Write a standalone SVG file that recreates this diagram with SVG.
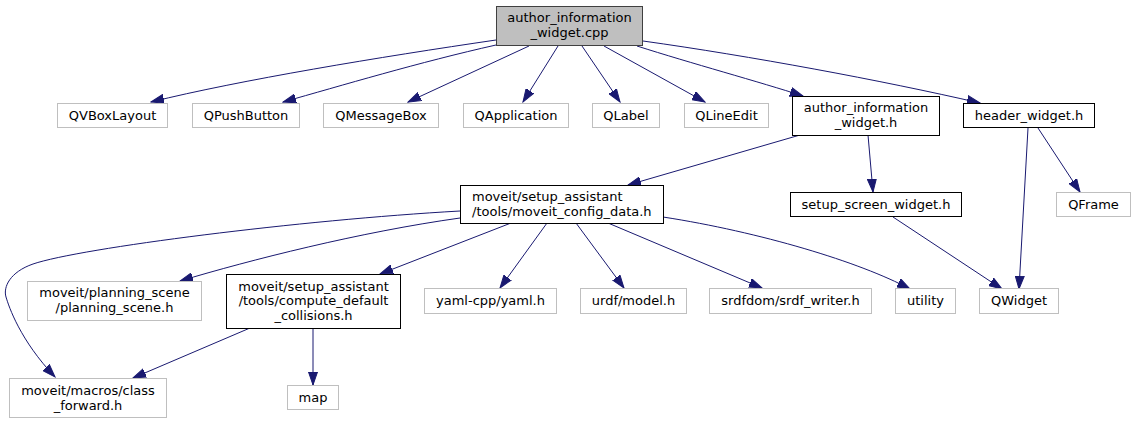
<svg xmlns="http://www.w3.org/2000/svg" width="1135" height="424" viewBox="0 0 1135 424">
<style>
text{font-family:"DejaVu Sans",sans-serif;font-size:13px;fill:#000;text-anchor:middle}
.g rect{fill:#fff;stroke:#bfbfbf;stroke-width:1}
.b rect{fill:#fff;stroke:#000;stroke-width:1}
.r rect{fill:#bfbfbf;stroke:#404040;stroke-width:1}
#edges path{fill:none;stroke:#191970;stroke-width:1;marker-end:url(#a)}
</style>
<defs>
<marker id="a" markerWidth="14" markerHeight="10" refX="13" refY="5" orient="auto" markerUnits="userSpaceOnUse">
<path d="M0,0.5 L13,5 L0,9.5 z" fill="#191970" stroke="#191970" stroke-width="1"/>
</marker>
</defs>
<rect width="1135" height="424" fill="#fff"/>
<g id="edges">
<path d="M496,40 C380,57 240,80 151,102"/>
<path d="M496,45 C420,62 340,86 283,102"/>
<path d="M529,46 L408,102"/>
<path d="M558,46 L523,102"/>
<path d="M582,46 L620,102"/>
<path d="M604,46 L705,102"/>
<path d="M637,46 C690,63 760,82 803,96"/>
<path d="M643,41 C750,56 880,80 980,103"/>
<path d="M800,135 L628,185"/>
<path d="M868,135 L873,192"/>
<path d="M1028,128 L1019,289"/>
<path d="M1038,128 L1080,192"/>
<path d="M893,217 L1002,289"/>
<path d="M460,211 C300,220 80,248 33,264 C10,272 3,287 6,297 C9,307 20,340 55,377"/>
<path d="M460,218 C360,232 250,260 180,281"/>
<path d="M511,223 L380,274"/>
<path d="M547,223 L500,288"/>
<path d="M576,223 L624,288"/>
<path d="M608,223 L762,288"/>
<path d="M663,217 C760,232 860,262 910,289"/>
<path d="M250,328 L133,378"/>
<path d="M313,328 L313,385"/>
</g>
<g id="n_root" class="r"><rect x="496.5" y="6.5" width="146" height="39"/><text x="569.5" y="22">author_information</text><text x="569.5" y="37">_widget.cpp</text></g>
<g id="n_qvbox" class="g"><rect x="57.5" y="103.5" width="110" height="24"/><text x="112.5" y="120">QVBoxLayout</text></g>
<g id="n_qpush" class="g"><rect x="192.5" y="103.5" width="107" height="24"/><text x="246" y="120">QPushButton</text></g>
<g id="n_qmsg" class="g"><rect x="323.5" y="103.5" width="115" height="24"/><text x="381" y="120">QMessageBox</text></g>
<g id="n_qapp" class="g"><rect x="463.5" y="103.5" width="105" height="24"/><text x="516" y="120">QApplication</text></g>
<g id="n_qlabel" class="g"><rect x="592.5" y="103.5" width="67" height="24"/><text x="626" y="120">QLabel</text></g>
<g id="n_qline" class="g"><rect x="684.5" y="103.5" width="84" height="24"/><text x="726.5" y="120">QLineEdit</text></g>
<g id="n_aiwh" class="b"><rect x="792.5" y="96.5" width="147" height="39"/><text x="866" y="112">author_information</text><text x="866" y="127">_widget.h</text></g>
<g id="n_header" class="b"><rect x="963.5" y="103.5" width="131" height="24"/><text x="1029" y="120">header_widget.h</text></g>
<g id="n_mcd" class="b"><rect x="460.5" y="185.5" width="203" height="38"/><text x="472" y="200.5" style="text-anchor:start">moveit/setup_assistant</text><text x="472" y="215.5" style="text-anchor:start">/tools/moveit_config_data.h</text></g>
<g id="n_setup" class="b"><rect x="790.5" y="192.5" width="171" height="24"/><text x="876" y="208.5">setup_screen_widget.h</text></g>
<g id="n_qframe" class="g"><rect x="1056.5" y="192.5" width="74" height="24"/><text x="1093.5" y="208.5">QFrame</text></g>
<g id="n_planning" class="g"><rect x="27.5" y="281.5" width="174" height="39"/><text x="114.5" y="297">moveit/planning_scene</text><text x="114.5" y="312">/planning_scene.h</text></g>
<g id="n_compute" class="b"><rect x="226.5" y="274.5" width="174" height="54"/><text x="313.5" y="290.5">moveit/setup_assistant</text><text x="313.5" y="305">/tools/compute_default</text><text x="313.5" y="319.5">_collisions.h</text></g>
<g id="n_yaml" class="g"><rect x="424.5" y="288.5" width="132" height="25"/><text x="490.5" y="305">yaml-cpp/yaml.h</text></g>
<g id="n_urdf" class="g"><rect x="580.5" y="288.5" width="106" height="25"/><text x="633.5" y="305">urdf/model.h</text></g>
<g id="n_srdf" class="g"><rect x="709.5" y="288.5" width="162" height="25"/><text x="790.5" y="305">srdfdom/srdf_writer.h</text></g>
<g id="n_utility" class="g"><rect x="895.5" y="288.5" width="60" height="25"/><text x="925.5" y="305">utility</text></g>
<g id="n_qwidget" class="g"><rect x="979.5" y="288.5" width="79" height="25"/><text x="1019" y="305">QWidget</text></g>
<g id="n_classfwd" class="g"><rect x="9.5" y="378.5" width="157" height="39"/><text x="88" y="394.5">moveit/macros/class</text><text x="88" y="409.5">_forward.h</text></g>
<g id="n_map" class="g"><rect x="287.5" y="385.5" width="51" height="24"/><text x="313" y="401.5">map</text></g>
</svg>
